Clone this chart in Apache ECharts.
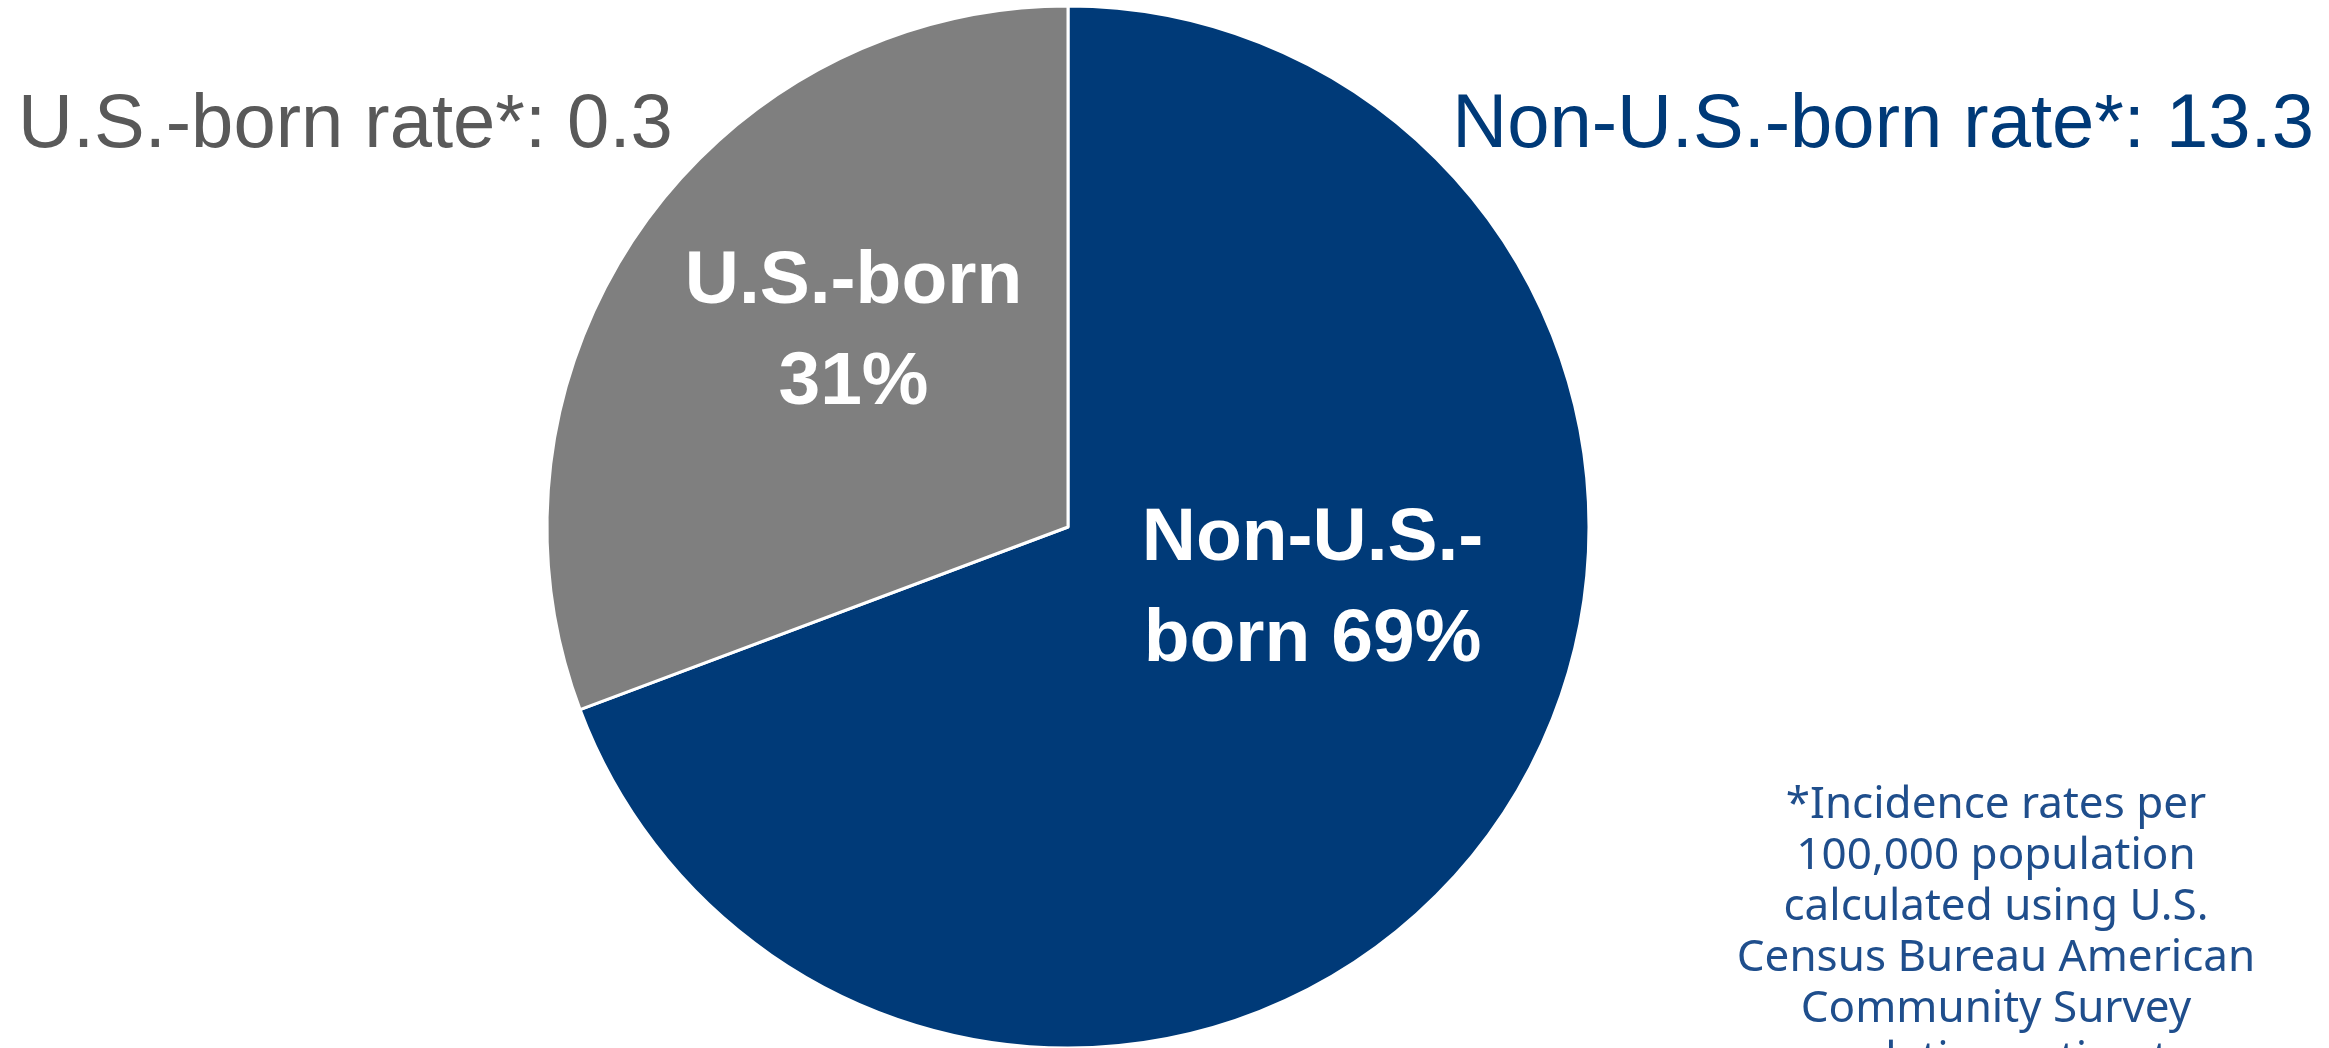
<!DOCTYPE html>
<html>
<head>
<meta charset="utf-8">
<script src="https://cdn.jsdelivr.net/npm/echarts@6/dist/echarts.min.js"></script>
<style>
  html, body { margin: 0; padding: 0; background: #fff; }
  #chart { width: 2329px; height: 1048px; }
</style>
</head>
<body>
<div id="chart"></div>
<script>
// data
const groups = ['Non-U.S.-born', 'U.S.-born']
const shares = [69.3, 30.7]
const sliceLabels = ['Non-U.S.-\nborn 69%', 'U.S.-born\n31%']
const rates = ['Non-U.S.-born rate*: 13.3', 'U.S.-born rate*: 0.3']
const footnote = '*Incidence rates per\n100,000 population\ncalculated using U.S.\nCensus Bureau American\nCommunity Survey\npopulation estimates'

const navy = '#003a78'
const grey = '#7f7f7f'

const chart = echarts.init(document.getElementById('chart'))

const option = {
  animation: false,
  backgroundColor: '#fff',
  color: [navy, grey],
  series: [
    {
      type: 'pie',
      center: [1068, 527],
      radius: [0, 521],
      startAngle: 90,
      clockwise: true,
      itemStyle: {
        borderColor: '#fff',
        borderWidth: 3
      },
      label: {
        show: true,
        position: 'inside',
        color: '#fff',
        fontFamily: 'Liberation Sans, Arial, sans-serif',
        fontWeight: 'bold',
        fontSize: 75,
        lineHeight: 101,
        formatter: p => sliceLabels[p.dataIndex]
      },
      labelLayout: p => {
        // nudge labels to where they sit in the original
        return p.dataIndex === 0 ? { dx: 28, dy: -87 } : { dx: 2, dy: -44 }
      },
      labelLine: { show: false },
      emphasis: { disabled: true },
      data: groups.map((g, i) => ({ name: g, value: shares[i] }))
    }
  ],
  graphic: [
    {
      type: 'text',
      left: 18,
      top: 88,
      style: {
        text: rates[1],
        fill: '#595959',
        font: '76px "Liberation Sans", Arial, sans-serif'
      }
    },
    {
      type: 'text',
      right: 15,
      top: 88,
      style: {
        text: rates[0],
        fill: navy,
        font: '76px "Liberation Sans", Arial, sans-serif'
      }
    },
    {
      type: 'text',
      x: 1996,
      y: 780,
      style: {
        text: footnote,
        fill: '#1f4e8c',
        align: 'center',
        font: '44px "Noto Sans", sans-serif',
        lineHeight: 51
      }
    }
  ]
}

chart.setOption(option)
</script>
</body>
</html>
